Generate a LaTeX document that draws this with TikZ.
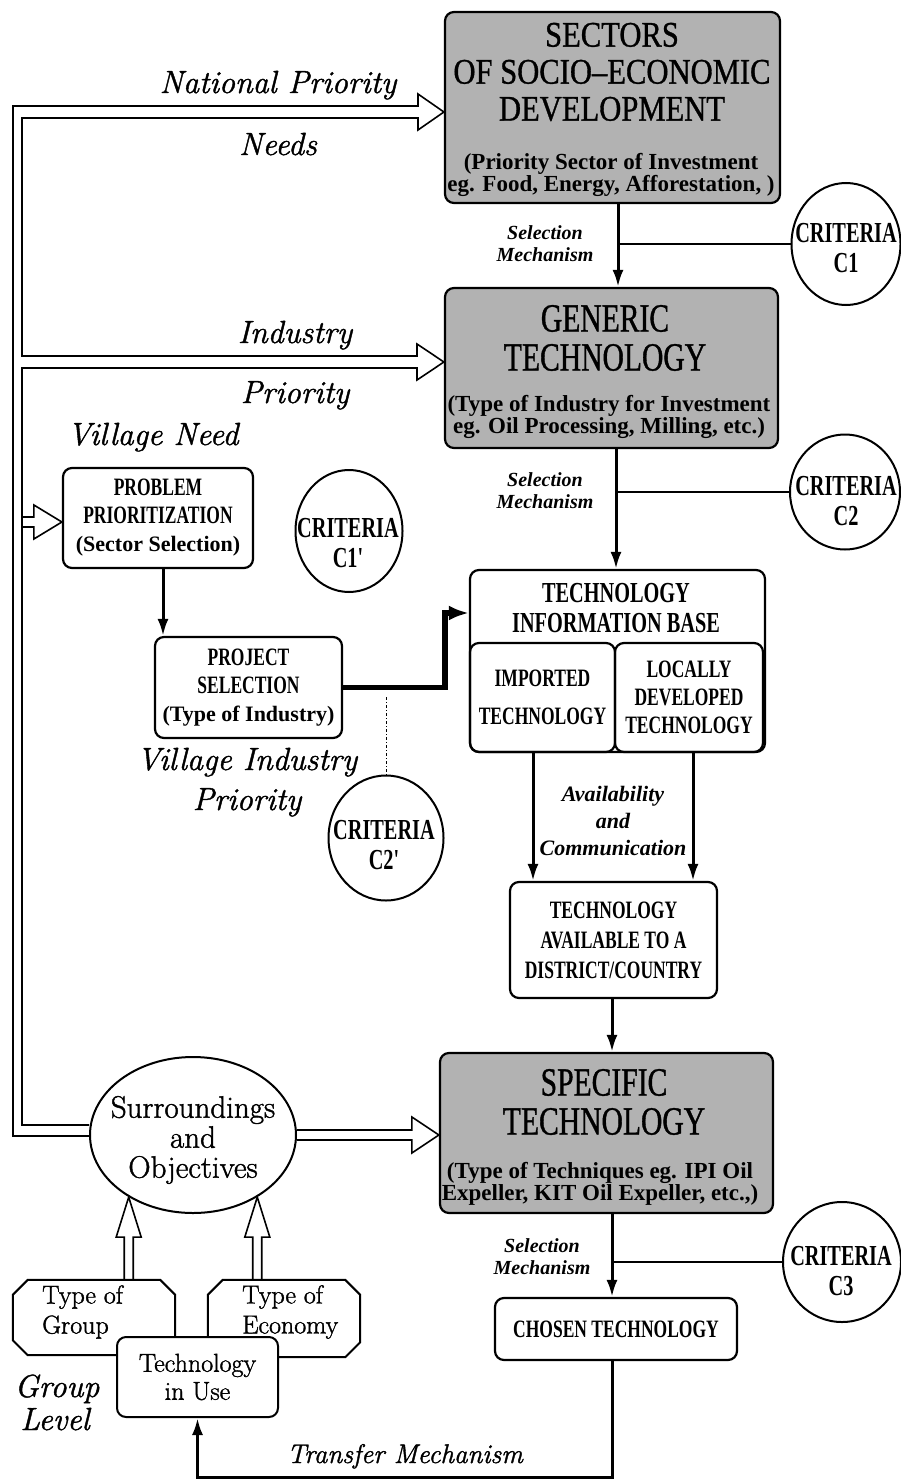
\documentclass[tikz,border=0pt]{standalone}
\usepackage{fontspec}
\usetikzlibrary{shapes.geometric,arrows.meta,calc}
\newfontfamily\capsf[FakeStretch=0.7]{Liberation Serif}
\newfontfamily\lowf{Liberation Serif}
\newfontfamily\bigfA[FakeStretch=0.85,FakeBold=0.9]{Liberation Serif}
\newfontfamily\bigfB[FakeStretch=0.74,FakeBold=0.9]{Liberation Serif}
\newfontfamily\labf[FakeBold=1.3]{Latin Modern Roman}
\newcommand\fsz[2]{\fontsize{#1}{#2}\selectfont}
% horizontal hollow arrow: #1 start, #2 tip, #3 shaft half width, #4 head half width, #5 head length
\newcommand\hollowR[5]{\draw[hollow] let \p1=#1, \p2=#2 in (\x1,\y2+#3) -- (\x2-#5,\y2+#3) -- (\x2-#5,\y2+#4) -- (\x2,\y2) -- (\x2-#5,\y2-#4) -- (\x2-#5,\y2-#3) -- (\x1,\y2-#3);}
% vertical (upward) hollow arrow
\newcommand\hollowU[5]{\draw[hollow] let \p1=#1, \p2=#2 in (\x2-#3,\y1) -- (\x2-#3,\y2-#5) -- (\x2-#4,\y2-#5) -- (\x2,\y2) -- (\x2+#4,\y2-#5) -- (\x2+#3,\y2-#5) -- (\x2+#3,\y1);}
\tikzset{
  box/.style={draw, line width=2.2pt, rounded corners=9pt, inner sep=0pt},
  greybox/.style={box, fill=black!30},
  crit/.style={draw, ellipse, line width=2pt, inner sep=0pt},
  critt/.style={align=center, inner sep=0pt, font=\capsf\bfseries\fsz{29}{30}},
  capt/.style={align=center, inner sep=0pt, font=\capsf\bfseries\fsz{25}{28}},
  titA/.style={align=center, inner sep=0pt, font=\bigfA\fsz{36}{37}},
  titB/.style={align=center, inner sep=0pt, font=\bigfB\fsz{40}{39}},
  subt/.style={align=center, inner sep=0pt, font=\lowf\bfseries\fsz{23}{22}},
  lab/.style={inner sep=0pt, anchor=base, font=\labf\itshape\fsz{32}{40}},
  selm/.style={inner sep=0pt, align=center, font=\lowf\bfseries\itshape\fsz{20}{22}},
  arr/.style={line width=3pt, line join=miter, -{Latex[length=17pt,width=11pt]}},
  thinl/.style={line width=1.8pt},
  hollow/.style={line width=1.6pt, line join=miter},
}
\begin{document}
\begin{tikzpicture}[x=1pt,y=-1pt]
\useasboundingbox (0,0) rectangle (901,1479);
\fill[white] (0,0) rectangle (901,1479);

% ---------- main column ----------
\node[greybox, minimum width=335pt, minimum height=191pt] (sec) at (612.5,107.5) {};
\node[titA] (secT) at (612,72) {SECTORS\\OF SOCIO–ECONOMIC\\DEVELOPMENT};
\node[subt, font=\lowf\bfseries\fsz{23}{19}] (secS) at (611,175) {(Priority Sector of Investment\\eg. Food, Energy, Afforestation, )};

\node[greybox, minimum width=333pt, minimum height=160pt] (gen) at (611.5,368) {};
\node[titB] (genT) at (605,338) {GENERIC\\TECHNOLOGY};
\node[subt] (genS) at (609,417) {(Type of Industry for Investment\\eg. Oil Processing, Milling, etc.)};

\node[box, minimum width=295pt, minimum height=182pt] (tib) at (617.5,661) {};
\node[capt, font=\capsf\bfseries\fsz{29}{30}] (tibT) at (616,608) {TECHNOLOGY\\INFORMATION BASE};
\node[box, capt, minimum width=145pt, minimum height=109pt, font=\capsf\bfseries\fsz{25}{38}] (imp) at (542.5,697.5) {IMPORTED\\TECHNOLOGY};
\node[box, capt, minimum width=148pt, minimum height=109pt] (loc) at (689,697.5) {LOCALLY\\DEVELOPED\\TECHNOLOGY};

\node[box, capt, minimum width=207pt, minimum height=116pt, font=\capsf\bfseries\fsz{25}{30}] (tadc) at (613.5,940) {TECHNOLOGY\\AVAILABLE TO A\\DISTRICT/COUNTRY};

\node[greybox, minimum width=333pt, minimum height=160pt] (spec) at (606.5,1133) {};
\node[titB] (specT) at (604,1102) {SPECIFIC\\TECHNOLOGY};
\node[subt] (specS) at (600,1184) {(Type of Techniques eg. IPI Oil\\Expeller, KIT Oil Expeller, etc.,)};

\node[box, capt, minimum width=242pt, minimum height=62pt] (cho) at (616,1329) {CHOSEN TECHNOLOGY};

% ---------- criteria ----------
\node[crit, minimum width=109pt, minimum height=122pt] (c1) at (846,244) {};
\node[critt] (c1t) at (846,248) {CRITERIA\\C1};
\node[crit, minimum width=110pt, minimum height=115pt] (c2) at (845,492) {};
\node[critt] (c2t) at (846,501) {CRITERIA\\C2};
\node[crit, minimum width=118pt, minimum height=120pt] (c3) at (842,1262) {};
\node[critt] (c3t) at (841,1271) {CRITERIA\\C3};
\node[crit, minimum width=107pt, minimum height=122pt] (c1p) at (349,531) {};
\node[critt] (c1pt) at (348,543) {CRITERIA\\C1'};
\node[crit, minimum width=115pt, minimum height=125pt] (c2p) at (386,838) {};
\node[critt] (c2pt) at (384,845) {CRITERIA\\C2'};

% ---------- village branch ----------
\node[box, capt, minimum width=190pt, minimum height=100pt] (prob) at (158,518) {PROBLEM\\PRIORITIZATION\\{\lowf\bfseries\fsz{22}{28}(Sector Selection)}};
\node[box, capt, minimum width=187pt, minimum height=101pt] (proj) at (248.5,687.5) {PROJECT\\SELECTION\\{\lowf\bfseries\fsz{22}{28}(Type of Industry)}};

% ---------- group level ----------
\node[draw, ellipse, line width=2pt, inner sep=0pt, minimum width=206pt, minimum height=156pt] (ell) at (193,1135) {};
\node[align=center, inner sep=0pt, font=\labf\fsz{31}{30}] (ellt) at (193,1140) {Surroundings\\and\\Objectives};

\node[minimum width=162pt, minimum height=75pt, inner sep=0pt] (grp) at (94,1317.5) {};
\draw[line width=2pt] ($(grp.north west)+(15,0)$) -- ($(grp.north east)+(-15,0)$) -- ($(grp.north east)+(0,15)$) -- ($(grp.south east)+(0,-15)$) -- ($(grp.south east)+(-15,0)$) -- ($(grp.south west)+(15,0)$) -- ($(grp.south west)+(0,-15)$) -- ($(grp.north west)+(0,15)$) -- cycle;

\node[minimum width=152pt, minimum height=77pt, inner sep=0pt] (eco) at (284,1318.5) {};
\draw[line width=2pt] ($(eco.north west)+(15,0)$) -- ($(eco.north east)+(-15,0)$) -- ($(eco.north east)+(0,15)$) -- ($(eco.south east)+(0,-15)$) -- ($(eco.south east)+(-15,0)$) -- ($(eco.south west)+(15,0)$) -- ($(eco.south west)+(0,-15)$) -- ($(eco.north west)+(0,15)$) -- cycle;

\node[box, fill=white, line width=2pt, minimum width=161pt, minimum height=80pt, align=center, font=\labf\fsz{26}{28}] (tiu) at (197.5,1377) {Technology\\in Use};

\node[anchor=west, align=left, inner sep=0pt, font=\labf\fsz{26}{30}] (grpt) at (42,1312) {Type of\\Group};
\node[anchor=west, align=left, inner sep=0pt, font=\labf\fsz{26}{30}] (ecot) at (242,1312) {Type of\\Economy};

% ---------- labels ----------
\node[lab] (lNP) at (278,93) {National Priority};
\node[lab] (lNe) at (278,155) {Needs};
\node[lab] (lIn) at (295,343) {Industry};
\node[lab] (lPr) at (295,403) {Priority};
\node[lab] (lVN) at (153,445) {Village Need};
\node[lab] (lVI) at (247,770) {Village Industry};
\node[lab] (lVP) at (247,810) {Priority};
\node[lab] (lGr) at (57,1397) {Group};
\node[lab] (lLe) at (55,1430) {Level};
\node[lab, font=\labf\itshape\fsz{27}{30}] (lTM) at (405,1463) {Transfer Mechanism};

\node[selm] (sm1) at (545,244) {Selection\\Mechanism};
\node[selm] (sm2) at (545,491) {Selection\\Mechanism};
\node[selm] (sm3) at (542,1257) {Selection\\Mechanism};
\node[selm, font=\lowf\bfseries\itshape\fsz{22}{27}] (avc) at (613,821) {Availability\\and\\Communication};

% ---------- connectors ----------
\coordinate (xa) at (618,0);
\coordinate (xb) at (616,0);
\coordinate (xc) at (533,0);
\coordinate (xd) at (693,0);
\coordinate (xe) at (612,0);
\coordinate (xf) at (163,0);
\coordinate (xg) at (445,0);
\coordinate (ya) at (0,613);
\coordinate (yb) at (0,1477);
\coordinate (yh) at (0,697);

\draw[arr] (sec.south -| xa) -- (gen.north -| xa);
\draw[arr] (gen.south -| xb) -- (tib.north -| xb);
\draw[arr] (imp.south -| xc) -- (tadc.north -| xc);
\draw[arr] (loc.south -| xd) -- (tadc.north -| xd);
\draw[arr] (tadc.south -| xe) -- (spec.north -| xe);
\draw[arr] (spec.south -| xe) -- (cho.north -| xe);
\draw[arr] (prob.south -| xf) -- (proj.north -| xf);
\draw[line width=5.5pt, line join=miter, -{Latex[length=20pt,width=15pt]}] (proj.east) -- (proj.east -| xg) -- (xg |- ya) -- (tib.west |- ya);
\draw[arr] (cho.south -| xe) -- (xe |- yb) -- (tiu.south |- yb) -- (tiu.south);

\draw[thinl] (c1.west) -- (c1.west -| xa);
\draw[thinl] (c2.west) -- (c2.west -| xb);
\draw[thinl] (c3.west) -- (c3.west -| xe);
\draw[line width=1pt, dash dot] (c2p.north |- yh) -- (c2p.north);

% ---------- hollow pipe and arrows ----------
\draw[hollow] (ell.west |- 0,1136) -- (13,1136) -- (13,106) -- (418,106) -- (418,94) -- (sec.west |- 0,112) -- (418,130) -- (418,118) -- (22,118) -- (22,356) -- (417,356) -- (417,344) -- (gen.west |- 0,362) -- (417,380) -- (417,368) -- (22,368) -- (22,1125) -- (ell.west |- 0,1125);
\hollowR{(22,522)}{(prob.west |- 0,522)}{5pt}{17pt}{28pt}
\hollowR{(ell.east)}{(spec.west |- ell.east)}{5pt}{18pt}{27pt}
\hollowU{(grp.north -| ell.224)}{(ell.224)}{4.5pt}{12.5pt}{40pt}
\hollowU{(eco.north -| ell.316)}{(ell.316)}{4.5pt}{12.5pt}{40pt}
\end{tikzpicture}
\end{document}
